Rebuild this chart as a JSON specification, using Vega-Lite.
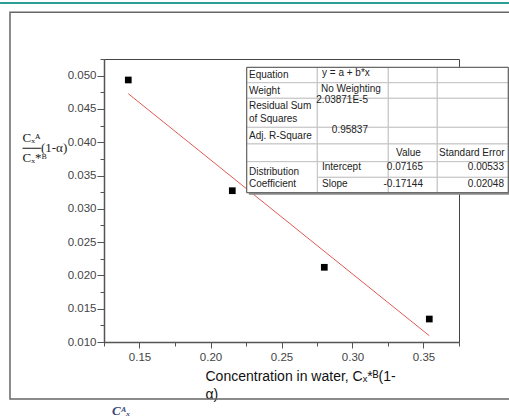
{
  "$schema": "https://vega.github.io/schema/vega-lite/v6.json",
  "autosize": {"type": "none"},
  "width": 355,
  "height": 283,
  "padding": {"left": 104, "top": 59, "right": 50, "bottom": 74},
  "background": "white",
  "config": {
    "font": "Liberation Sans",
    "view": {"stroke": "#444", "strokeWidth": 1}
  },
  "resolve": {"axis": {"x": "independent", "y": "independent"}},
  "datasets": {
    "pts": [
      {"x": 0.1421, "y": 0.04935},
      {"x": 0.21535, "y": 0.03272},
      {"x": 0.28014, "y": 0.02122},
      {"x": 0.35408, "y": 0.01345}
    ],
    "fit": [
      {"x": 0.1421, "y": 0.04729},
      {"x": 0.3541, "y": 0.01094}
    ],
    "frame": [{"x": 0.0588, "x2": 0.4144, "y": 0.00144, "y2": 0.05951}],
    "teal": [{"x": 0.0518, "x2": 0.42, "y": 0.06091}],
    "shadow": [{"x": 0.2270, "x2": 0.4111, "y": 0.05095, "y2": 0.03212}],
    "cells": [
      {"x": 0.2255, "x2": 0.2752, "y": 0.05125, "y2": 0.04894},
      {"x": 0.2752, "x2": 0.3252, "y": 0.05125, "y2": 0.04894},
      {"x": 0.3252, "x2": 0.3597, "y": 0.05125, "y2": 0.04894},
      {"x": 0.3597, "x2": 0.4097, "y": 0.05125, "y2": 0.04894},
      {"x": 0.2255, "x2": 0.2752, "y": 0.04894, "y2": 0.04660},
      {"x": 0.2752, "x2": 0.3252, "y": 0.04894, "y2": 0.04660},
      {"x": 0.3252, "x2": 0.3597, "y": 0.04894, "y2": 0.04660},
      {"x": 0.3597, "x2": 0.4097, "y": 0.04894, "y2": 0.04660},
      {"x": 0.2255, "x2": 0.2752, "y": 0.04660, "y2": 0.04224},
      {"x": 0.2752, "x2": 0.3252, "y": 0.04660, "y2": 0.04224},
      {"x": 0.3252, "x2": 0.3597, "y": 0.04660, "y2": 0.04224},
      {"x": 0.3597, "x2": 0.4097, "y": 0.04660, "y2": 0.04224},
      {"x": 0.2255, "x2": 0.2752, "y": 0.04224, "y2": 0.03974},
      {"x": 0.2752, "x2": 0.3252, "y": 0.04224, "y2": 0.03974},
      {"x": 0.3252, "x2": 0.3597, "y": 0.04224, "y2": 0.03974},
      {"x": 0.3597, "x2": 0.4097, "y": 0.04224, "y2": 0.03974},
      {"x": 0.2255, "x2": 0.2752, "y": 0.03974, "y2": 0.03708},
      {"x": 0.2752, "x2": 0.3252, "y": 0.03974, "y2": 0.03708},
      {"x": 0.3252, "x2": 0.3597, "y": 0.03974, "y2": 0.03708},
      {"x": 0.3597, "x2": 0.4097, "y": 0.03974, "y2": 0.03708},
      {"x": 0.2752, "x2": 0.3252, "y": 0.03708, "y2": 0.03473},
      {"x": 0.3252, "x2": 0.3597, "y": 0.03708, "y2": 0.03473},
      {"x": 0.3597, "x2": 0.4097, "y": 0.03708, "y2": 0.03473},
      {"x": 0.2752, "x2": 0.3252, "y": 0.03473, "y2": 0.03242},
      {"x": 0.3252, "x2": 0.3597, "y": 0.03473, "y2": 0.03242},
      {"x": 0.3597, "x2": 0.4097, "y": 0.03473, "y2": 0.03242},
      {"x": 0.2255, "x2": 0.2752, "y": 0.03708, "y2": 0.03242}
    ],
    "border": [{"x": 0.2255, "x2": 0.4097, "y": 0.05125, "y2": 0.03242}],
    "tl": [
      {"x": 0.22711, "y": 0.050097, "t": "Equation"},
      {"x": 0.27852, "y": 0.050398, "t": "y = a + b*x"},
      {"x": 0.22711, "y": 0.047695, "t": "Weight"},
      {"x": 0.27782, "y": 0.047995, "t": "No Weighting"},
      {"x": 0.22711, "y": 0.045442, "t": "Residual Sum"},
      {"x": 0.22711, "y": 0.043489, "t": "of Squares"},
      {"x": 0.22711, "y": 0.040937, "t": "Adj. R-Square"},
      {"x": 0.33063, "y": 0.038384, "t": "Value"},
      {"x": 0.36092, "y": 0.038384, "t": "Standard Error"},
      {"x": 0.22711, "y": 0.035530, "t": "Distribution"},
      {"x": 0.22711, "y": 0.033728, "t": "Coefficient"},
      {"x": 0.27852, "y": 0.036281, "t": "Intercept"},
      {"x": 0.27852, "y": 0.033728, "t": "Slope"}
    ],
    "tr": [
      {"x": 0.31092, "y": 0.046343, "t": "2.03871E-5"},
      {"x": 0.31092, "y": 0.041838, "t": "0.95837"},
      {"x": 0.34965, "y": 0.036281, "t": "0.07165"},
      {"x": 0.40669, "y": 0.036281, "t": "0.00533"},
      {"x": 0.34965, "y": 0.033728, "t": "-0.17144"},
      {"x": 0.40669, "y": 0.033728, "t": "0.02048"}
    ],
    "icon": [{"x": 0.1306, "y": -0.0004, "t": "Cᴬₓ"}]
  },
  "layer": [
    {
      "data": {"name": "pts"},
      "mark": {"type": "point", "shape": "square", "filled": true, "color": "black", "size": 45, "opacity": 1},
      "encoding": {
        "x": {
          "field": "x", "type": "quantitative",
          "scale": {"domain": [0.125, 0.375], "nice": false, "zero": false},
          "axis": {
            "orient": "bottom",
            "values": [0.15, 0.2, 0.25, 0.3, 0.35],
            "format": ".2f",
            "labelFont": "Liberation Sans", "labelFontSize": 11.5, "labelColor": "#444",
            "labelPadding": 3, "labelOverlap": false, "labelFlush": false,
            "tickSize": 6,
            "tickColor": "#555", "domainColor": "#555", "domainWidth": 1.5, "grid": false,
            "title": ["Concentration in water, Cₓ*ᴮ(1-", "α)"],
            "titleFont": "Liberation Sans", "titleFontSize": 14, "titleFontWeight": "normal", "titleColor": "#111",
            "titleAlign": "left", "titleAnchor": "start", "titleBaseline": "top", "titleX": 101, "titleY": 27, "titleLineHeight": 18
          }
        },
        "y": {
          "field": "y", "type": "quantitative",
          "scale": {"domain": [0.01, 0.0525], "nice": false, "zero": false},
          "axis": {
            "orient": "left",
            "values": [0.01, 0.015, 0.02, 0.025, 0.03, 0.035, 0.04, 0.045, 0.05],
            "format": ".3f",
            "labelFont": "Liberation Sans", "labelFontSize": 11.5, "labelColor": "#444",
            "labelPadding": 1, "labelOverlap": false, "labelFlush": false,
            "tickSize": 7,
            "tickColor": "#555", "domainColor": "#555", "domainWidth": 1.5, "grid": false,
            "title": ["Cₓᴬ", "──(1-α)", "Cₓ*ᴮ"],
            "titleFont": "Liberation Serif", "titleFontSize": 13, "titleFontWeight": "normal", "titleColor": "#222",
            "titleAngle": 0, "titleAlign": "left", "titleBaseline": "top", "titleX": -82, "titleY": 72, "titleLineHeight": 10
          }
        }
      }
    },
    {
      "data": {"name": "fit"},
      "mark": {"type": "line", "color": "#e05a55", "strokeWidth": 1, "clip": false},
      "encoding": {
        "x": {
          "field": "x", "type": "quantitative",
          "axis": {
            "orient": "bottom", "offset": 0,
            "values": [0.125, 0.175, 0.225, 0.275, 0.325, 0.375],
            "labels": false, "domain": false, "grid": false, "title": null,
            "tickSize": 4, "tickColor": "#555"
          }
        },
        "y": {
          "field": "y", "type": "quantitative",
          "axis": {
            "orient": "left", "offset": 0,
            "values": [0.0125, 0.0175, 0.0225, 0.0275, 0.0325, 0.0375, 0.0425, 0.0475, 0.0525],
            "labels": false, "domain": false, "grid": false, "title": null,
            "tickSize": 4, "tickColor": "#555"
          }
        }
      }
    },
    {
      "data": {"name": "frame"},
      "mark": {"type": "rect", "fill": null, "fillOpacity": 0, "stroke": "#666", "strokeWidth": 1.5, "clip": false},
      "encoding": {
        "x": {"field": "x", "type": "quantitative", "axis": null},
        "x2": {"field": "x2"},
        "y": {"field": "y", "type": "quantitative", "axis": null},
        "y2": {"field": "y2"}
      }
    },
    {
      "data": {"name": "teal"},
      "mark": {"type": "rule", "color": "#2a9d95", "strokeWidth": 2, "clip": false},
      "encoding": {
        "x": {"field": "x", "type": "quantitative", "axis": null},
        "x2": {"field": "x2"},
        "y": {"field": "y", "type": "quantitative", "axis": null}
      }
    },
    {
      "data": {"name": "shadow"},
      "mark": {"type": "rect", "fill": "#888", "clip": false},
      "encoding": {
        "x": {"field": "x", "type": "quantitative", "axis": null},
        "x2": {"field": "x2"},
        "y": {"field": "y", "type": "quantitative", "axis": null},
        "y2": {"field": "y2"}
      }
    },
    {
      "data": {"name": "cells"},
      "mark": {"type": "rect", "fill": "white", "stroke": "#c4c4c4", "strokeWidth": 1, "clip": false},
      "encoding": {
        "x": {"field": "x", "type": "quantitative", "axis": null},
        "x2": {"field": "x2"},
        "y": {"field": "y", "type": "quantitative", "axis": null},
        "y2": {"field": "y2"}
      }
    },
    {
      "data": {"name": "border"},
      "mark": {"type": "rect", "fill": null, "fillOpacity": 0, "stroke": "#555", "strokeWidth": 1, "clip": false},
      "encoding": {
        "x": {"field": "x", "type": "quantitative", "axis": null},
        "x2": {"field": "x2"},
        "y": {"field": "y", "type": "quantitative", "axis": null},
        "y2": {"field": "y2"}
      }
    },
    {
      "data": {"name": "tl"},
      "mark": {"type": "text", "align": "left", "baseline": "middle", "font": "Liberation Sans", "fontSize": 10, "color": "#222", "clip": false},
      "encoding": {
        "x": {"field": "x", "type": "quantitative", "axis": null},
        "y": {"field": "y", "type": "quantitative", "axis": null},
        "text": {"field": "t"}
      }
    },
    {
      "data": {"name": "tr"},
      "mark": {"type": "text", "align": "right", "baseline": "middle", "font": "Liberation Sans", "fontSize": 10, "color": "#222", "clip": false},
      "encoding": {
        "x": {"field": "x", "type": "quantitative", "axis": null},
        "y": {"field": "y", "type": "quantitative", "axis": null},
        "text": {"field": "t"}
      }
    },
    {
      "data": {"name": "icon"},
      "mark": {"type": "text", "align": "left", "baseline": "middle", "font": "Liberation Serif", "fontSize": 13, "fontStyle": "italic", "fontWeight": "bold", "color": "#3a4a7a", "clip": false},
      "encoding": {
        "x": {"field": "x", "type": "quantitative", "axis": null},
        "y": {"field": "y", "type": "quantitative", "axis": null},
        "text": {"field": "t"}
      }
    }
  ]
}
